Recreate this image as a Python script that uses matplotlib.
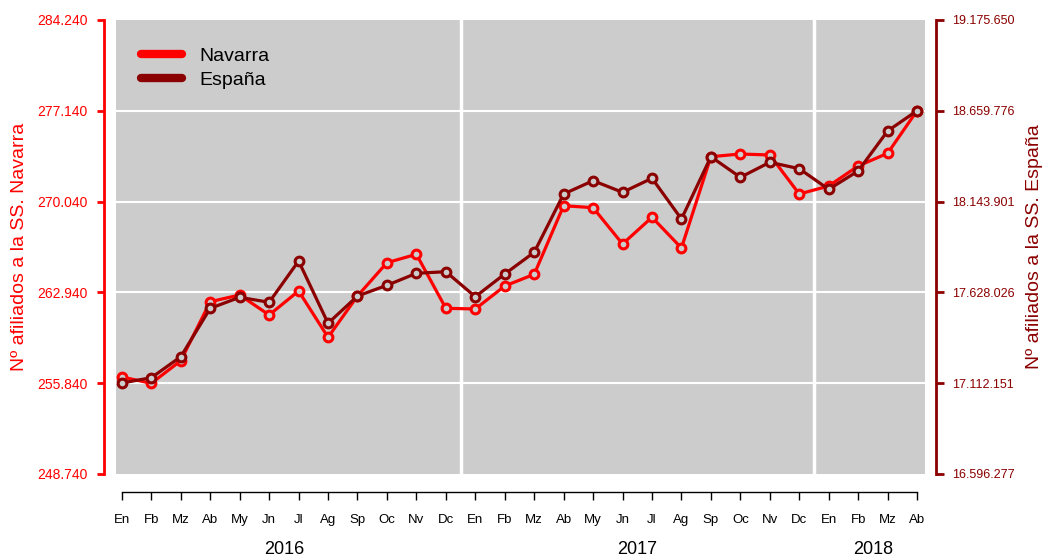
import matplotlib.pyplot as plt
import matplotlib.transforms as mtransforms
from matplotlib.lines import Line2D
import numpy as np

plt.rcParams['font.family'] = ['Liberation Sans', 'DejaVu Sans']

# Datos: afiliados a la Seguridad Social, En 2016 - Ab 2018
meses = ['En', 'Fb', 'Mz', 'Ab', 'My', 'Jn', 'Jl', 'Ag', 'Sp', 'Oc', 'Nv', 'Dc']
month_labels = meses + meses + meses[:4]
years = ['2016', '2017', '2018']
year_centers = [5.5, 17.5, 25.5]
year_breaks = [11.5, 23.5]

navarra = [256326, 255833, 257600, 262214, 262738, 261174, 263050, 259430,
           262659, 265263, 265920, 261697, 261643, 263441, 264355, 269720,
           269563, 266725, 268813, 266412, 273551, 273762, 273684, 270634,
           271260, 272824, 273817, 277148]
espana = [17113302, 17143413, 17262722, 17537702, 17600198, 17571791,
          17806433, 17452481, 17607584, 17668375, 17736551, 17745641,
          17603607, 17732574, 17855861, 18187086, 18262649, 18196745,
          18276284, 18045051, 18399003, 18281966, 18367187, 18330826,
          18213789, 18317759, 18545015, 18660347]

nav_ticks = [248740, 255840, 262940, 270040, 277140, 284240]
esp_ticks = [16596277, 17112151, 17628026, 18143901, 18659776, 19175650]

RED = '#FF0000'
DARK = '#8B0000'
BG = '#CCCCCC'
PX = 72 / 100  # points per pixel


def fmt(v):
    return '{:,}'.format(int(v)).replace(',', '.')


fig = plt.figure(figsize=(10.42, 5.55), dpi=100)
ax = fig.add_axes([116 / 1042, 1 - 474 / 555, 809 / 1042, 454 / 555])
ax.set_facecolor(BG)

x = np.arange(len(navarra))
ax.set_xlim(-0.2, 27.27)
ax.set_ylim(nav_ticks[0], nav_ticks[-1])

# grid
for t in nav_ticks[1:-1]:
    ax.axhline(t, color='white', lw=1.5, zorder=1)
for b in year_breaks:
    ax.axvline(b, color='white', lw=2.5, zorder=1)

ax.plot(x, navarra, color=RED, lw=2.3, marker='o', ms=6.3, mfc=BG, mec=RED,
        mew=2.2, zorder=3)

ax.set_yticks(nav_ticks)
ax.set_yticklabels([fmt(t) for t in nav_ticks])
ax.set_xticks(x)
ax.set_xticklabels(month_labels)

ax.spines['top'].set_visible(False)
ax.spines['right'].set_visible(False)
ax.spines['left'].set_position(('outward', 12 * PX))
ax.spines['left'].set_color(RED)
ax.spines['left'].set_linewidth(2)
ax.spines['bottom'].set_position(('outward', 18 * PX))
ax.spines['bottom'].set_bounds(0, 27)
ax.spines['bottom'].set_linewidth(1)

ax.tick_params(axis='y', colors=RED, length=5, width=2, labelsize=10, pad=7)
ax.tick_params(axis='x', colors='black', length=6, width=1, labelsize=9.5, pad=10)
ax.set_ylabel('Nº afiliados a la SS. Navarra', color=RED, fontsize=14, labelpad=6)

ax2 = ax.twinx()
ax2.set_ylim(esp_ticks[0], esp_ticks[-1])
ax2.plot(x, espana, color=DARK, lw=2.3, marker='o', ms=6.3, mfc=BG, mec=DARK,
         mew=2.2, zorder=3)
ax2.set_yticks(esp_ticks)
ax2.set_yticklabels([fmt(t) for t in esp_ticks])
for s in ['top', 'left', 'bottom']:
    ax2.spines[s].set_visible(False)
ax2.spines['right'].set_position(('outward', 11 * PX))
ax2.spines['right'].set_color(DARK)
ax2.spines['right'].set_linewidth(2)
ax2.tick_params(axis='y', colors=DARK, length=6, width=2, labelsize=9, pad=5.5)
ax2.set_ylabel('Nº afiliados a la SS. España', color=DARK, fontsize=14,
               labelpad=8, rotation=90)

# year labels under month axis
trans = mtransforms.blended_transform_factory(ax.transData, fig.transFigure)
for yr, c in zip(years, year_centers):
    fig.text(c, 1 - 541 / 555, yr, transform=trans, ha='center', va='top',
             fontsize=13)

handles = [Line2D([], [], color=RED, lw=6, solid_capstyle='round'),
           Line2D([], [], color=DARK, lw=6, solid_capstyle='round')]
ax2.legend(handles, ['Navarra', 'España'], loc='upper left',
           bbox_to_anchor=(0.031, 0.94), frameon=False, fontsize=14,
           handlelength=2.1, handletextpad=0.9, labelspacing=0.35,
           borderpad=0, borderaxespad=0)

fig.savefig('out.png', dpi=100)
